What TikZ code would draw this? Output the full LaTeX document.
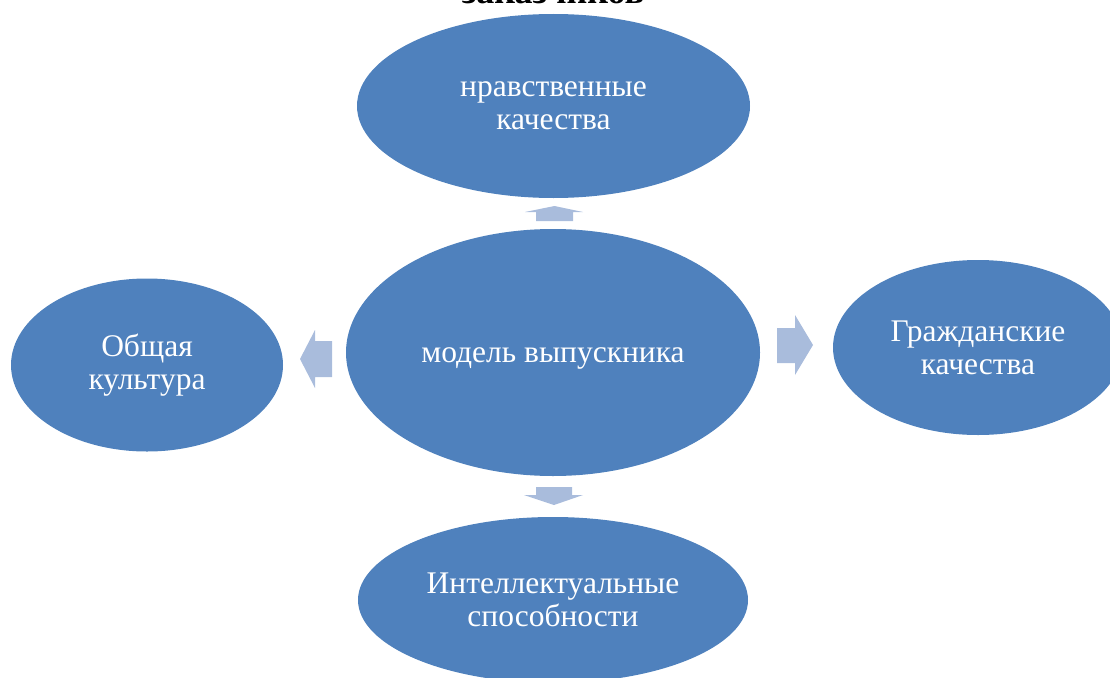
\documentclass[tikz,border=0pt]{standalone}
\usepackage{fontspec}
\setmainfont{Liberation Serif}
\usetikzlibrary{shapes.geometric}
\definecolor{blobc}{HTML}{4F81BD}
\definecolor{arrowc}{HTML}{A9BCDC}

\begin{document}
\begin{tikzpicture}[x=1pt,y=-1pt,
  blob/.style={ellipse,fill=blobc,inner sep=0pt,text=white,align=center,
    font=\fontsize{31.5}{33}\selectfont},
  barrow/.style={fill=arrowc}]
  \useasboundingbox (0,0) rectangle (1110,677);
  \clip (0,0) rectangle (1110,677);
  % title, cut at the top edge
  \node[font=\bfseries\fontsize{36}{40}\selectfont,anchor=base,inner sep=0pt] (title) at (553,4) {заказчиков};
  % ellipses
  \node[blob,minimum width=414pt,minimum height=247pt] (grad) at (553,352.5) {};
  \node[text=white,font=\fontsize{31.5}{33}\selectfont,anchor=base] (gradtext) at (553,362) {модель выпускника};
  \node[blob,minimum width=393pt,minimum height=184pt] (moral) at (553.5,106) {нравственные\\качества};
  \node[blob,minimum width=272pt,minimum height=173pt] (culture) at (147,365) {Общая\\культура};
  \node[blob,minimum width=290pt,minimum height=175pt] (civic) at (978,347.5) {Гражданские\\качества};
  \node[blob,minimum width=390pt,minimum height=166pt] (intel) at (553,600) {Интеллектуальные\\способности};
  % block arrows
  \fill[barrow] (536,221) -- (536,212) -- (525,212) -- (554.5,206) -- (583,212) -- (573,212) -- (573,221) -- cycle;
  \fill[barrow] (536,487) -- (572,487) -- (572,495) -- (583,495) -- (554,505) -- (524,495) -- (536,495) -- cycle;
  \fill[barrow] (332,341) -- (315,341) -- (315,330) -- (300,359) -- (315,388) -- (315,377) -- (332,377) -- cycle;
  \fill[barrow] (777,328) -- (795,328) -- (795,315) -- (813,345) -- (795,375) -- (795,363) -- (777,363) -- cycle;
\end{tikzpicture}
\end{document}
